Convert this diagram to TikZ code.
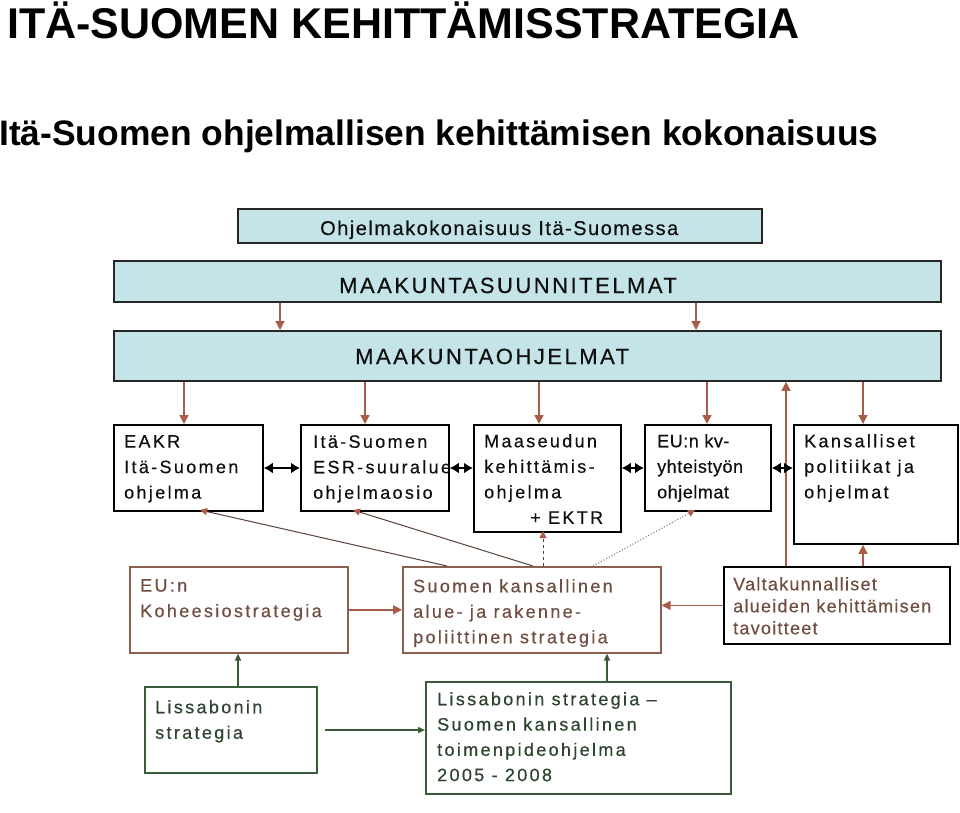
\documentclass[tikz,border=0pt]{standalone}
\usepackage{fontspec}
\setmainfont{Liberation Sans}
\newfontfamily\boxfont[LetterSpace=13,FakeBold=0.4]{Liberation Sans}
\newfontfamily\capsfont[LetterSpace=11.4,FakeBold=0.4]{Liberation Sans}
\newfontfamily\lowfont[LetterSpace=7.5,FakeBold=0.4]{Liberation Sans}
\newfontfamily\valtfont[LetterSpace=7,FakeBold=0.4]{Liberation Sans}
\newfontfamily\kvfont[LetterSpace=3,FakeBold=0.4]{Liberation Sans}
\usetikzlibrary{arrows.meta}
\definecolor{headfill}{RGB}{196,228,232}
\definecolor{arrbrown}{RGB}{170,92,72}
\definecolor{boxbrown}{RGB}{140,96,80}
\definecolor{txtbrown}{RGB}{112,78,66}
\definecolor{linebrown}{RGB}{90,66,58}
\definecolor{grn}{RGB}{58,92,58}
\definecolor{txtgreen}{RGB}{45,68,45}
\definecolor{txtgray}{RGB}{15,15,15}
\tikzset{
  hbox/.style={draw=black!85, line width=1.8pt, fill=headfill, inner sep=0pt, anchor=north west},
  pbox/.style={draw=black, line width=1.8pt, fill=white, inner sep=0pt, anchor=north west},
  bbox/.style={draw=boxbrown, line width=1.6pt, fill=white, inner sep=0pt, anchor=north west},
  gbox/.style={draw=grn, line width=1.6pt, fill=white, inner sep=0pt, anchor=north west},
  htxt/.style={inner sep=0pt, anchor=base west, text=txtgray},
  btxt/.style={inner sep=0pt, anchor=north west, align=left, text=txtgray,
    font=\boxfont\fontsize{18}{25.5}\selectfont},
  brarrow/.style={draw=arrbrown, line width=1.4pt, -{Triangle[length=9pt,width=9pt]}},
  linkarrow/.style={draw=linebrown, line width=1pt, -{Triangle[length=7pt,width=7pt,color=arrbrown]}},
  dblarrow/.style={draw=black, line width=2.4pt, {Latex[length=9pt,width=11pt]}-{Latex[length=9pt,width=11pt]}},
  grarrow/.style={draw=grn, line width=1.5pt, -{Triangle[length=7pt,width=6pt]}}
}
\begin{document}
\begin{tikzpicture}[x=1pt,y=-1pt]
\useasboundingbox (0,0) rectangle (960,812);
\fill[white] (0,0) rectangle (960,812);

% titles
\node[anchor=base west, inner sep=0pt, font=\fontsize{43}{43}\selectfont\bfseries] (title) at (7,38) {ITÄ-SUOMEN KEHITTÄMISSTRATEGIA};
\node[anchor=base west, inner sep=0pt, font=\fontsize{35.4}{36}\selectfont\bfseries] (subtitle) at (-1,145) {Itä-Suomen ohjelmallisen kehittämisen kokonaisuus};

% header boxes
\node[hbox, minimum width=524pt, minimum height=34pt] (top) at (237,208) {};
\node[hbox, minimum width=827pt, minimum height=41pt] (msuun) at (113,260) {};
\node[hbox, minimum width=827pt, minimum height=50pt] (mohj) at (113,330) {};
\node[htxt, font=\lowfont\fontsize{20}{22}\selectfont] (topT) at (320,235) {Ohjelmakokonaisuus Itä-Suomessa};
\node[htxt, font=\capsfont\fontsize{22}{24}\selectfont] (msuunT) at (339,293) {MAAKUNTASUUNNITELMAT};
\node[htxt, font=\capsfont\fontsize{22}{24}\selectfont] (mohjT) at (355,364) {MAAKUNTAOHJELMAT};

% programme boxes
\node[pbox, minimum width=149pt, minimum height=86pt] (eakr) at (113,424) {};
\node[pbox, minimum width=148pt, minimum height=86pt] (esr) at (300,424) {};
\node[pbox, minimum width=147pt, minimum height=107pt] (maas) at (473,424) {};
\node[pbox, minimum width=126pt, minimum height=86pt] (eukv) at (644,424) {};
\node[pbox, minimum width=164pt, minimum height=119pt] (kans) at (793,424) {};

\node[btxt] (eakrT) at (124,435) {EAKR\\Itä-Suomen\\ohjelma};
\node[btxt] (esrT) at (313,435) {Itä-Suomen\\ESR-suuralue\\ohjelmaosio};
\node[btxt] (maasT) at (484,434) {Maaseudun\\kehittämis-\\ohjelma\\\hspace*{46pt}+ EKTR};
\node[btxt, font=\kvfont\fontsize{18}{25.5}\selectfont] (eukvT) at (657,434) {EU:n kv-\\yhteistyön\\ohjelmat};
\node[btxt] (kansT) at (804,434) {Kansalliset\\politiikat ja\\ohjelmat};

% strategy boxes
\node[bbox, minimum width=218pt, minimum height=86pt] (kohe) at (129,566) {};
\node[bbox, minimum width=258pt, minimum height=86pt] (suomi) at (402,566) {};
\node[pbox, minimum width=226pt, minimum height=77pt] (valt) at (723,566) {};
\node[btxt, text=txtbrown] (koheT) at (140,579) {EU:n\\Koheesiostrategia};
\node[btxt, text=txtbrown] (suomiT) at (413,579) {Suomen kansallinen\\alue- ja rakenne-\\poliittinen strategia};
\node[btxt, text=txtbrown, font=\valtfont\fontsize{18}{22}\selectfont] (valtT) at (733,577) {Valtakunnalliset\\alueiden kehittämisen\\tavoitteet};

% Lisbon boxes
\node[gbox, minimum width=172pt, minimum height=86pt] (liss) at (144,686) {};
\node[gbox, minimum width=305pt, minimum height=112pt] (liss2) at (425,681) {};
\node[btxt, text=txtgreen] (lissT) at (155,700) {Lissabonin\\strategia};
\node[btxt, text=txtgreen, font=\boxfont\fontsize{18}{25.3}\selectfont] (liss2T) at (437,692) {Lissabonin strategia –\\Suomen kansallinen\\toimenpideohjelma\\2005 - 2008};

% helper coordinates
\coordinate (xa) at (280,0);
\coordinate (xb) at (696,0);
\coordinate (x1) at (184,0);
\coordinate (x2) at (365,0);
\coordinate (x3) at (539,0);
\coordinate (x4) at (707,0);
\coordinate (x5) at (863,0);
\coordinate (xup) at (786,0);
\coordinate (yrow) at (0,468);
\coordinate (xg1) at (238,0);
\coordinate (xg2) at (607,0);
\coordinate (lstart) at (325,730);
\coordinate (s1) at (447,566);
\coordinate (s2) at (533,566);
\coordinate (s3) at (543,566);
\coordinate (s4) at (593,566);
\coordinate (e1) at (200,510);
\coordinate (e2) at (353,510);
\coordinate (e3) at (543,531);
\coordinate (e4) at (695,510);

% header arrows
\draw[brarrow] (xa |- msuun.south) -- (xa |- mohj.north);
\draw[brarrow] (xb |- msuun.south) -- (xb |- mohj.north);
\draw[brarrow] (x1 |- mohj.south) -- (x1 |- eakr.north);
\draw[brarrow] (x2 |- mohj.south) -- (x2 |- esr.north);
\draw[brarrow] (x3 |- mohj.south) -- (x3 |- maas.north);
\draw[brarrow] (x4 |- mohj.south) -- (x4 |- eukv.north);
\draw[brarrow] (x5 |- mohj.south) -- (x5 |- kans.north);
\draw[brarrow] (xup |- valt.north) -- (xup |- mohj.south);

% double arrows
\draw[dblarrow] (eakr.east |- yrow) -- (esr.west |- yrow);
\draw[dblarrow] (esr.east |- yrow) -- (maas.west |- yrow);
\draw[dblarrow] (maas.east |- yrow) -- (eukv.west |- yrow);
\draw[dblarrow] (eukv.east |- yrow) -- (kans.west |- yrow);

% strategy links
\draw[brarrow] (kohe.east) -- (suomi.west |- kohe.east);
\draw[brarrow] (valt.west) -- (suomi.east |- valt.west);
\draw[brarrow] (x5 |- valt.north) -- (x5 |- kans.south);
\draw[linkarrow] (s1) -- (e1);
\draw[linkarrow] (s2) -- (e2);
\draw[linkarrow, dashed] (s3) -- (e3);
\draw[linkarrow, dotted, draw=black!55] (s4) -- (e4);

% green links
\draw[grarrow] (xg1 |- liss.north) -- (xg1 |- kohe.south);
\draw[grarrow] (lstart) -- (liss2.west |- lstart);
\draw[grarrow] (xg2 |- liss2.north) -- (xg2 |- suomi.south);
\end{tikzpicture}
\end{document}
